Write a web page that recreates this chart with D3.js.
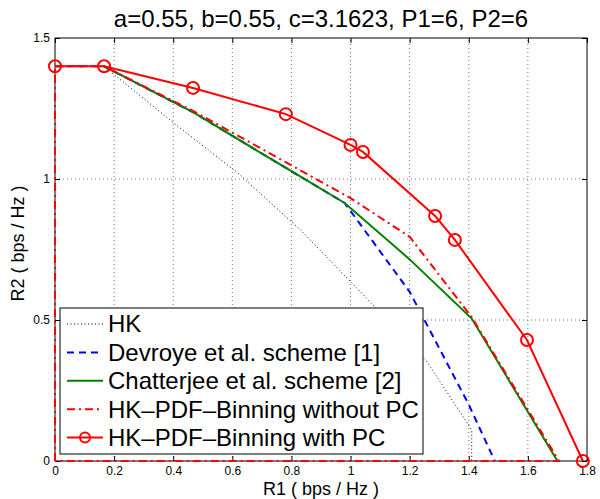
<!DOCTYPE html>
<html>
<head>
<meta charset="utf-8">
<script src="https://cdn.jsdelivr.net/npm/d3@7"></script>
<style>
  body { margin: 0; background: #fff; }
  svg { display: block; font-family: "Liberation Sans", Arial, sans-serif; }
</style>
</head>
<body>
<div id="chart"></div>
<script>
const TITLE = "a=0.55, b=0.55, c=3.1623, P1=6, P2=6";
const X_LABEL = "R1 ( bps / Hz )";
const Y_LABEL = "R2 ( bps / Hz )";

const xTicks = [0, 0.2, 0.4, 0.6, 0.8, 1, 1.2, 1.4, 1.6, 1.8];
const yTicks = [0, 0.5, 1, 1.5];

// HK (dotted black)
const hkX = [0, 0.165, 0.40, 0.62, 0.83, 1.07, 1.26, 1.41, 1.41];
const hkY = [1.40, 1.40, 1.20, 1.02, 0.82, 0.56, 0.35, 0.11, 0];

// Devroye et al. scheme [1] (blue dashed)
const devX = [0, 0.165, 0.47, 0.78, 0.98, 1.20, 1.40, 1.488];
const devY = [1.40, 1.40, 1.235, 1.04, 0.915, 0.60, 0.20, 0];

// Chatterjee et al. scheme [2] (green solid)
const chaX = [0.165, 0.47, 0.78, 0.98, 1.20, 1.41, 1.70];
const chaY = [1.40, 1.235, 1.04, 0.915, 0.715, 0.505, 0];

// HK-PDF-Binning without PC (red dash-dot)
const noPcX = [0, 0, 0.165, 0.47, 0.78, 1.00, 1.20, 1.41, 1.705, 0];
const noPcY = [0, 1.40, 1.40, 1.24, 1.06, 0.932, 0.795, 0.51, 0, 0];

// HK-PDF-Binning with PC (red solid, circles)
const pcX = [0, 0.166, 0.467, 0.781, 1.0, 1.042, 1.286, 1.353, 1.597, 1.786];
const pcY = [1.40, 1.40, 1.323, 1.230, 1.121, 1.096, 0.869, 0.784, 0.429, 0];

const legendLabels = [
    "HK",
    "Devroye et al. scheme [1]",
    "Chatterjee et al. scheme [2]",
    "HK\u2013PDF\u2013Binning without PC",
    "HK\u2013PDF\u2013Binning with PC"
];

const WIDTH = 600;
const HEIGHT = 499;
const margin = { left: 55, right: 13, top: 38, bottom: 38 };

const svg = d3.select("#chart")
    .append("svg")
    .attr("width", WIDTH)
    .attr("height", HEIGHT);

const x = d3.scaleLinear()
    .domain([0, 1.8])
    .range([margin.left, WIDTH - margin.right]);

const y = d3.scaleLinear()
    .domain([0, 1.5])
    .range([HEIGHT - margin.bottom, margin.top]);

const x0 = x.range()[0], x1 = x.range()[1];
const y0 = y.range()[0], y1 = y.range()[1];

// grid
svg.append("g")
    .selectAll("line")
    .data(xTicks.slice(1, -1))
    .join("line")
    .attr("x1", d => x(d)).attr("x2", d => x(d))
    .attr("y1", y0).attr("y2", y1)
    .attr("stroke", "#777")
    .attr("stroke-width", 1)
    .attr("stroke-dasharray", "1,3");

svg.append("g")
    .selectAll("line")
    .data(yTicks.slice(1, -1))
    .join("line")
    .attr("x1", x0).attr("x2", x1)
    .attr("y1", d => y(d)).attr("y2", d => y(d))
    .attr("stroke", "#777")
    .attr("stroke-width", 1)
    .attr("stroke-dasharray", "1,3");

// axes (ticks inward, box)
const fmt = d => d3.format("~g")(d);

svg.append("g")
    .attr("transform", `translate(0,${y0})`)
    .call(d3.axisBottom(x).tickValues(xTicks).tickFormat(fmt).tickSizeInner(-5).tickSizeOuter(0).tickPadding(5))
    .call(g => g.select(".domain").remove());

svg.append("g")
    .attr("transform", `translate(0,${y1})`)
    .call(d3.axisTop(x).tickValues(xTicks).tickFormat("").tickSizeInner(-5).tickSizeOuter(0))
    .call(g => g.select(".domain").remove());

svg.append("g")
    .attr("transform", `translate(${x0},0)`)
    .call(d3.axisLeft(y).tickValues(yTicks).tickFormat(fmt).tickSizeInner(-5).tickSizeOuter(0).tickPadding(5))
    .call(g => g.select(".domain").remove());

svg.append("g")
    .attr("transform", `translate(${x1},0)`)
    .call(d3.axisRight(y).tickValues(yTicks).tickFormat("").tickSizeInner(-5).tickSizeOuter(0))
    .call(g => g.select(".domain").remove());

svg.selectAll(".tick text")
    .attr("font-family", "Liberation Sans, Arial, sans-serif")
    .attr("font-size", 12)
    .attr("fill", "#000");
svg.selectAll(".tick line").attr("stroke", "#000");

svg.append("rect")
    .attr("x", x0).attr("y", y1)
    .attr("width", x1 - x0).attr("height", y0 - y1)
    .attr("fill", "none")
    .attr("stroke", "#000")
    .attr("stroke-width", 1);

// series
const toPts = (xs, ys) => xs.map((v, i) => [v, ys[i]]);
const line = d3.line().x(d => x(d[0])).y(d => y(d[1]));

const series = [
    { pts: toPts(hkX, hkY), color: "#000", width: 1, dash: "1,2.5" },
    { pts: toPts(devX, devY), color: "#0000ff", width: 2, dash: "7,5" },
    { pts: toPts(chaX, chaY), color: "#008000", width: 2, dash: null },
    { pts: toPts(noPcX, noPcY), color: "#ff0000", width: 2, dash: "8,4,2,4" },
    { pts: toPts(pcX, pcY), color: "#ff0000", width: 2, dash: null, marker: true }
];

series.forEach(s => {
    svg.append("path")
        .datum(s.pts)
        .attr("d", line)
        .attr("fill", "none")
        .attr("stroke", s.color)
        .attr("stroke-width", s.width)
        .attr("stroke-dasharray", s.dash);
    if (s.marker) {
        svg.append("g")
            .selectAll("circle")
            .data(s.pts)
            .join("circle")
            .attr("cx", d => x(d[0]))
            .attr("cy", d => y(d[1]))
            .attr("r", 6)
            .attr("fill", "none")
            .attr("stroke", s.color)
            .attr("stroke-width", 2);
    }
});

// title and labels
svg.append("text")
    .attr("x", (x0 + x1) / 2)
    .attr("y", 27)
    .attr("text-anchor", "middle")
    .attr("font-size", 24)
    .text(TITLE);

svg.append("text")
    .attr("x", (x0 + x1) / 2)
    .attr("y", 495)
    .attr("text-anchor", "middle")
    .attr("font-size", 18)
    .text(X_LABEL);

svg.append("text")
    .attr("transform", `translate(24,${(y0 + y1) / 2 - 6}) rotate(-90)`)
    .attr("text-anchor", "middle")
    .attr("font-size", 18)
    .text(Y_LABEL);

// legend
const lg = svg.append("g").attr("transform", "translate(60,308)");
lg.append("rect")
    .attr("width", 363).attr("height", 146)
    .attr("fill", "#fff")
    .attr("stroke", "#000")
    .attr("stroke-width", 1);

const rows = lg.selectAll("g.row")
    .data(series.map((s, i) => ({ ...s, label: legendLabels[i] })))
    .join("g")
    .attr("class", "row")
    .attr("transform", (d, i) => `translate(0,${16 + i * 28.4})`);

rows.append("line")
    .attr("x1", 7).attr("x2", 43)
    .attr("stroke", d => d.color)
    .attr("stroke-width", d => d.width)
    .attr("stroke-dasharray", d => d.dash);

rows.filter(d => d.marker)
    .append("circle")
    .attr("cx", 25).attr("r", 5)
    .attr("fill", "none")
    .attr("stroke", d => d.color)
    .attr("stroke-width", 2);

rows.append("text")
    .attr("x", 48)
    .attr("dy", "0.35em")
    .attr("font-size", 24)
    .text(d => d.label);
</script>
</body>
</html>
